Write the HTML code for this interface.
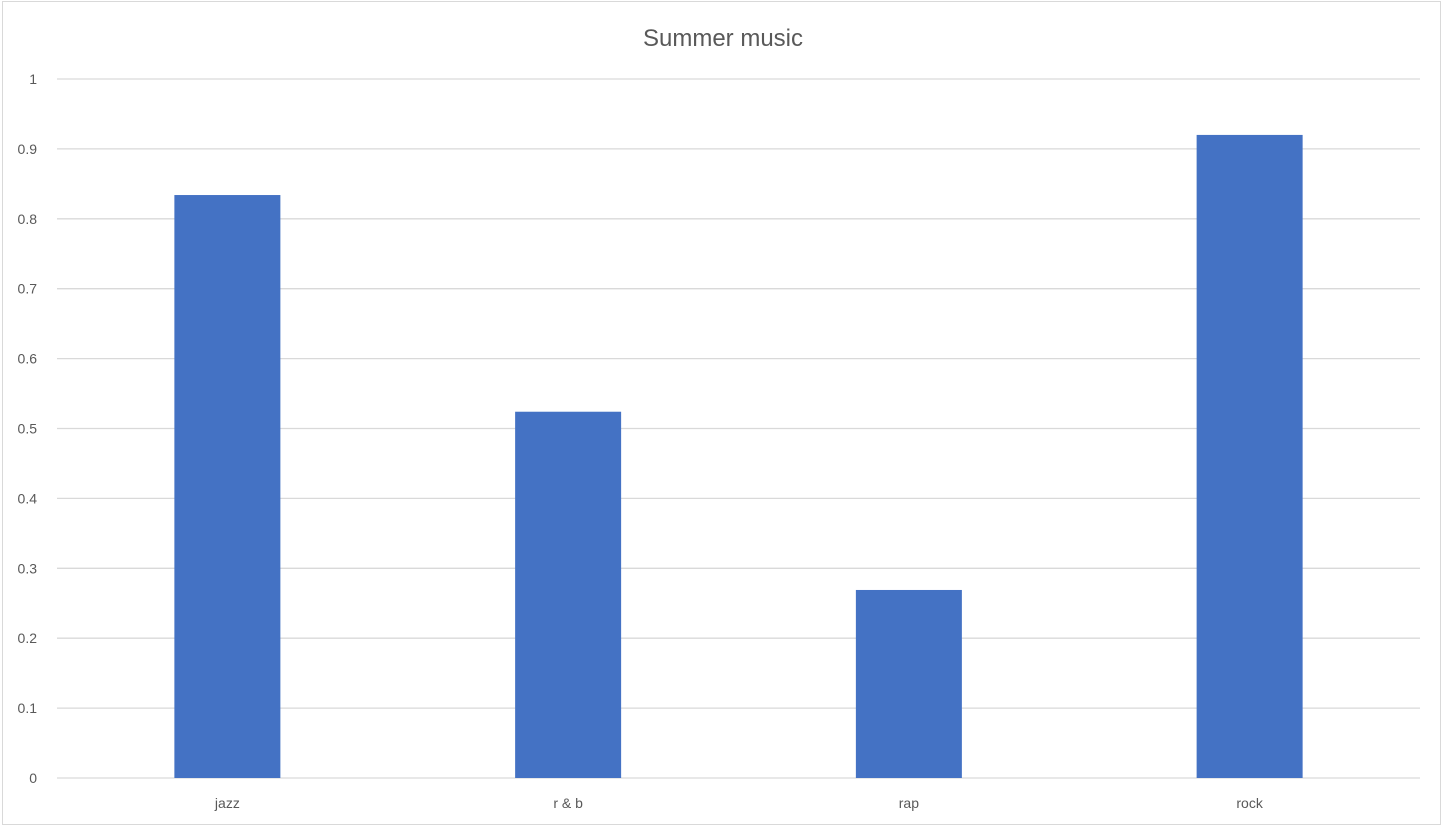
<!DOCTYPE html>
<html><head><meta charset="utf-8"><style>
body{margin:0;background:#fff;}
svg{display:block;font-family:"Liberation Sans",sans-serif;}
</style></head><body>
<svg id="chart" width="1443" height="827" xmlns="http://www.w3.org/2000/svg">
<rect x="2.5" y="1.5" width="1438" height="823" fill="#fff" stroke="#d9d9d9"/>
<text x="723" y="46" text-anchor="middle" font-size="24" fill="#595959">Summer music</text>
<g id="grid"></g><g id="bars"></g><g id="labels"></g>
</svg>
<script>
const categories=["jazz","r & b","rap","rock"];
const values=[0.834,0.524,0.269,0.92];
const yTicks=[0,0.1,0.2,0.3,0.4,0.5,0.6,0.7,0.8,0.9,1];
const yTickLabels=["0","0.1","0.2","0.3","0.4","0.5","0.6","0.7","0.8","0.9","1"];
const NS="http://www.w3.org/2000/svg";
const x0=57,x1=1420,y0=778,y1=79;
const y=v=>y0-(y0-y1)*v;
const band=(x1-x0)/categories.length;
const xc=i=>x0+band*(i+0.5);
const bw=106;
function mk(t,a,p){const e=document.createElementNS(NS,t);for(const k in a)e.setAttribute(k,a[k]);p.appendChild(e);return e;}
const g=document.getElementById('grid'),b=document.getElementById('bars'),l=document.getElementById('labels');
yTicks.forEach((v,i)=>{
 const ln=mk('line',{x1:x0,x2:x1,y1:y(v),y2:y(v),stroke:'#d9d9d9','stroke-width':1.3},g);
 
 
 const t=mk('text',{x:37,y:y(v)+5,'text-anchor':'end','font-size':14,fill:'#595959'},l);
 t.textContent=yTickLabels[i];
 
 
});
categories.forEach((c,i)=>{
 const r=mk('rect',{x:xc(i)-bw/2,y:y(values[i]),width:bw,height:y(0)-y(values[i]),fill:'#4472c4'},b);
 
 
 const t=mk('text',{x:xc(i),y:808,'text-anchor':'middle','font-size':14,fill:'#595959'},l);
 t.textContent=c;
 
 
});
</script>
</body></html>
